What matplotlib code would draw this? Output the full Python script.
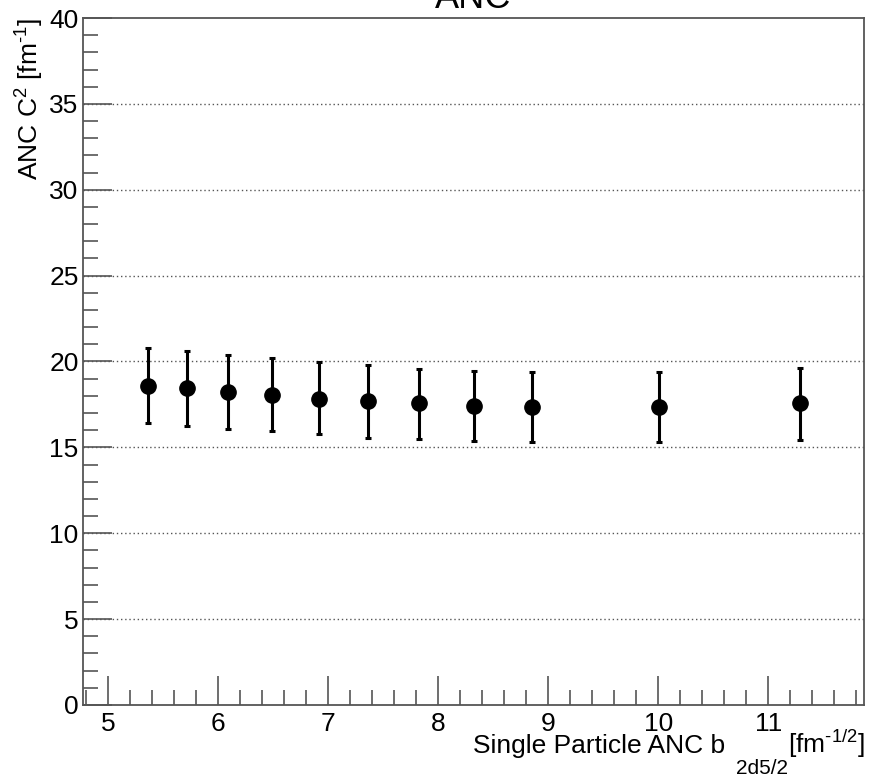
import matplotlib
matplotlib.use("Agg")
import matplotlib.pyplot as plt
from matplotlib.ticker import MultipleLocator

plt.rcParams['font.family'] = ['Liberation Sans', 'DejaVu Sans']
plt.rcParams['mathtext.fontset'] = 'custom'
plt.rcParams['mathtext.rm'] = 'Liberation Sans'
plt.rcParams['mathtext.it'] = 'Liberation Sans'

# single particle ANC b and extracted ANC C^2 with errors
b_sp = [5.358, 5.712, 6.088, 6.485, 6.912, 7.361, 7.828, 8.328, 8.849, 10.003, 11.285]
anc_c2 = [18.57, 18.43, 18.24, 18.03, 17.83, 17.70, 17.58, 17.42, 17.36, 17.36, 17.58]
err_hi = [2.21, 2.16, 2.15, 2.17, 2.14, 2.09, 2.00, 2.00, 2.00, 2.00, 2.05]
err_lo = [2.14, 2.21, 2.16, 2.06, 2.07, 2.14, 2.08, 2.07, 2.07, 2.07, 2.16]

fig = plt.figure(figsize=(8.75, 7.77), dpi=100)
ax = fig.add_axes([0.0945, 0.0927, 0.8929, 0.8841])

ax.errorbar(b_sp, anc_c2, yerr=[err_lo, err_hi], fmt='o', color='black',
            markersize=11, elinewidth=2.2, capsize=2.5, capthick=2.2, zorder=3)

ax.set_xlim(4.767, 11.87)
ax.set_ylim(0, 40)

ax.xaxis.set_major_locator(MultipleLocator(1))
ax.xaxis.set_minor_locator(MultipleLocator(0.2))
ax.yaxis.set_major_locator(MultipleLocator(5))
ax.yaxis.set_minor_locator(MultipleLocator(1))
ax.tick_params(which='both', direction='in', top=False, right=False,
               labelsize=19, color='#555555', width=1.2)
ax.tick_params(which='major', length=21)
ax.tick_params(which='minor', length=11)
ax.tick_params(axis='x', pad=5)
ax.tick_params(axis='y', pad=3)

for y in range(5, 40, 5):
    ax.axhline(y, color='#555555', linestyle=(0, (1, 2)), linewidth=1, zorder=1)

for s in ax.spines.values():
    s.set_color('#555555')
    s.set_linewidth(1.3)

ax.set_ylabel('ANC C$^{\\rm 2}$ [fm$^{\\rm \u20101}$]', fontsize=19, loc='top', labelpad=2)

# x title in ROOT style: subscript pushed well below the baseline
fig.text(725 / 875, 1 - 753 / 777, 'Single Particle ANC b', fontsize=19,
         ha='right', va='baseline')
fig.text(788 / 875, 1 - 774 / 777, '2d5/2', fontsize=15, ha='right', va='baseline')
fig.text(865 / 875, 1 - 753 / 777, '[fm$^{\\rm \u20101/2}$]', fontsize=19,
         ha='right', va='baseline')

fig.text(0.541, 1 - 8 / 777, 'ANC', fontsize=26, ha='center', va='baseline')

fig.savefig('out.png', dpi=100)
